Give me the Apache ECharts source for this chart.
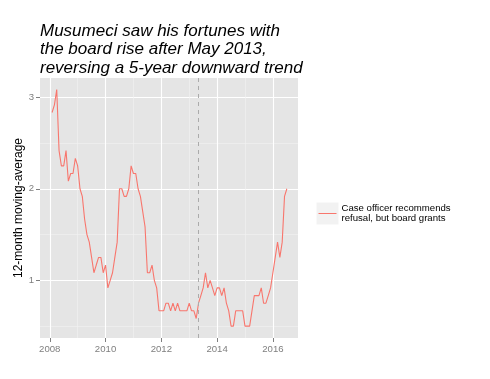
<!DOCTYPE html>
<html><head><meta charset="utf-8">
<script src="https://cdn.jsdelivr.net/npm/echarts@6/dist/echarts.min.js"></script>
<style>html,body{margin:0;padding:0;background:#fff}#c{width:490px;height:379px}</style>
</head><body><div id="c"></div>
<script>
// Data: 12-month moving average, monthly from Feb 2008 to Jul 2016
const startYear = 2008, startMonth = 2;
const values = [
  2.833,2.917,3.083,2.417,2.25,2.25,2.417,2.083,2.167,2.167,2.333,2.25,
  2.0,1.917,1.667,1.5,1.417,1.25,1.083,1.167,1.25,1.25,1.083,1.167,
  0.917,1.0,1.083,1.25,1.417,2.0,2.0,1.917,1.917,2.0,2.25,2.167,
  2.167,2.0,1.917,1.75,1.583,1.083,1.083,1.167,1.0,0.917,0.667,0.667,
  0.667,0.75,0.75,0.667,0.75,0.667,0.75,0.667,0.667,0.667,0.667,0.75,
  0.667,0.667,0.583,0.75,0.833,0.917,1.083,0.917,1.0,0.917,0.833,0.917,
  0.917,0.833,0.917,0.75,0.667,0.5,0.5,0.667,0.667,0.667,0.667,0.5,
  0.5,0.5,0.667,0.833,0.833,0.833,0.917,0.75,0.75,0.833,0.917,1.083,
  1.25,1.417,1.25,1.417,1.917,2.0
];
const xMajorTicks = [2008, 2010, 2012, 2014, 2016];
const xMinorTicks = [2009, 2011, 2013, 2015];
const yMajorTicks = [1, 2, 3];
const yMinorTicks = [0.5, 1.5, 2.5];
const eventDate = 2013 + 4/12; // May 2013
const titleText = 'Musumeci saw his fortunes with\nthe board rise after May 2013,\nreversing a 5-year downward trend';
const yTitle = '12-month moving-average';
const legendLines = ['Case officer recommends', 'refusal, but board grants'];

const seriesName = legendLines.join('\n');
const data = values.map((v, i) => [startYear + (startMonth - 1 + i) / 12, v]);

const FONT = '"Liberation Sans", Arial, Helvetica, sans-serif';
const chart = echarts.init(document.getElementById('c'), null, {renderer: 'canvas'});
const xMin = 2007.65, xMax = 2016.9, yMin = 0.37, yMax = 3.21;
const axisCommon = {
  axisLine: {show: false, onZero: false},
};
chart.setOption({
  animation: false,
  backgroundColor: '#ffffff',
  textStyle: {fontFamily: FONT},
  title: {
    text: titleText, left: 40, top: 22, padding: 0,
    textStyle: {fontFamily: FONT, fontStyle: 'italic', fontWeight: 'normal', fontSize: 17, lineHeight: 18.5, color: '#000'}
  },
  grid: {left: 40, top: 78, width: 258, height: 260, show: true, backgroundColor: '#E5E5E5', borderWidth: 0, containLabel: false},
  xAxis: [
    Object.assign({type: 'value', min: xMin, max: xMax, position: 'bottom',
      axisTick: {show: true, length: 4, lineStyle: {color: '#7F7F7F', width: 1}, customValues: xMajorTicks},
      axisLabel: {show: true, margin: 6, fontSize: 9.6, color: '#7F7F7F', fontFamily: FONT, customValues: xMajorTicks, formatter: v => String(Math.round(v))},
      splitLine: {show: true, lineStyle: {color: '#FFFFFF', width: 1.1}}
    }, axisCommon),
    Object.assign({type: 'value', min: xMin, max: xMax, position: 'top',
      axisTick: {show: false, customValues: xMinorTicks},
      axisLabel: {show: false, customValues: xMinorTicks},
      splitLine: {show: true, lineStyle: {color: '#F2F2F2', width: 0.6}}
    }, axisCommon)
  ],
  yAxis: [
    Object.assign({type: 'value', min: yMin, max: yMax, position: 'left',
      name: yTitle, nameLocation: 'middle', nameRotate: 90, nameGap: 15, nameMoveOverlap: false,
      nameTextStyle: {fontSize: 12, color: '#000', fontFamily: FONT},
      axisTick: {show: true, length: 4, lineStyle: {color: '#7F7F7F', width: 1}, customValues: yMajorTicks},
      axisLabel: {show: true, margin: 6, fontSize: 9.6, color: '#7F7F7F', fontFamily: FONT, customValues: yMajorTicks, formatter: v => String(Math.round(v))},
      splitLine: {show: true, lineStyle: {color: '#FFFFFF', width: 1.1}}
    }, axisCommon),
    Object.assign({type: 'value', min: yMin, max: yMax, position: 'right',
      axisTick: {show: false, customValues: yMinorTicks},
      axisLabel: {show: false, customValues: yMinorTicks},
      splitLine: {show: true, lineStyle: {color: '#F2F2F2', width: 0.6}}
    }, axisCommon)
  ],
  legend: {
    show: true, left: 318.5, top: 202, padding: 0, orient: 'vertical',
    selectedMode: false, icon: 'rect', itemWidth: 18, itemHeight: 1,
    data: [seriesName],
    textStyle: {fontSize: 9.6, lineHeight: 10, color: '#000', fontFamily: FONT, padding: [3, 0, 0, 0]}
  },
  graphic: [{
    type: 'rect', z: -1, silent: true,
    shape: {x: 316.5, y: 202.5, width: 22, height: 22},
    style: {fill: '#F2F2F2'}
  }],
  series: [{
    name: seriesName, type: 'line', xAxisIndex: 0, yAxisIndex: 0,
    data: data, showSymbol: false, symbol: 'none',
    lineStyle: {color: '#F8766D', width: 1.1}, itemStyle: {color: '#F8766D'},
    markLine: {
      silent: true, symbol: 'none', label: {show: false},
      lineStyle: {color: '#ABABAB', type: [4, 4], width: 1},
      data: [{xAxis: eventDate}]
    }
  }]
});
</script>
</body></html>
